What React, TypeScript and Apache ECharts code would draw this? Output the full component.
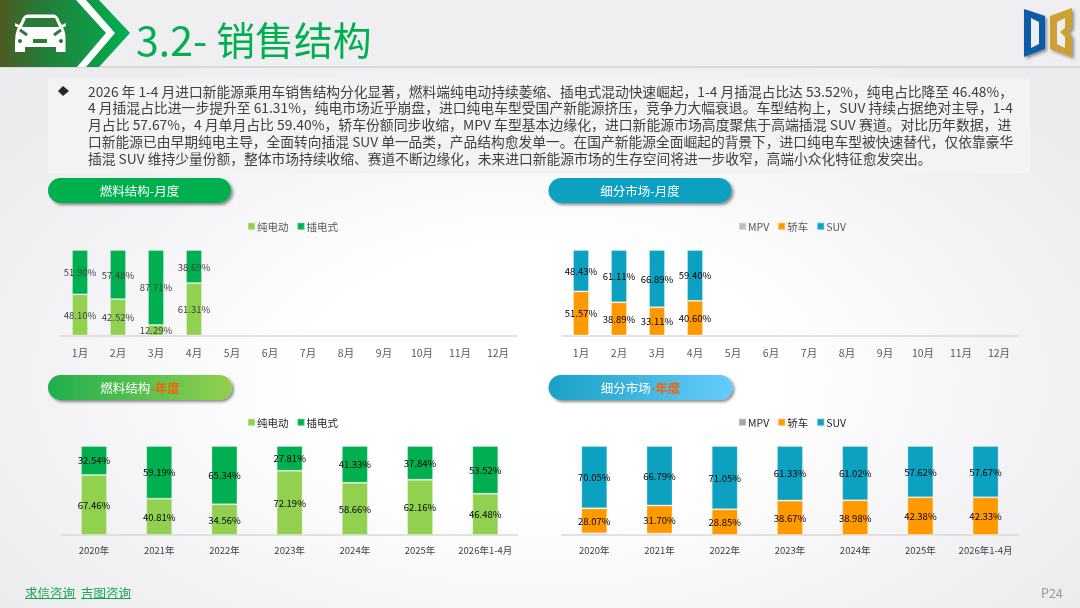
import React, { useEffect, useRef } from "react";
import * as echarts from "echarts";

const months = ["1月", "2月", "3月", "4月", "5月", "6月", "7月", "8月", "9月", "10月", "11月", "12月"];
const years = ["2020年", "2021年", "2022年", "2023年", "2024年", "2025年", "2026年1-4月"];

const monthBev = [48.1, 42.52, 12.29, 61.31];
const monthPhev = [51.9, 57.48, 87.71, 38.69];
const monthMpv = [0, 0, 0, 0];
const monthSedan = [51.57, 38.89, 33.11, 40.6];
const monthSuv = [48.43, 61.11, 66.89, 59.4];

const yearBev = [67.46, 40.81, 34.56, 72.19, 58.66, 62.16, 46.48];
const yearPhev = [32.54, 59.19, 65.34, 27.81, 41.33, 37.84, 53.52];
const yearMpv = [1.88, 1.51, 0.1, 0, 0, 0, 0];
const yearSedan = [28.07, 31.7, 28.85, 38.67, 38.98, 42.38, 42.33];
const yearSuv = [70.05, 66.79, 71.05, 61.33, 61.02, 57.62, 57.67];

const bodyLines = [
  "2026 年 1-4 月进口新能源乘用车销售结构分化显著，燃料端纯电动持续萎缩、插电式混动快速崛起，1-4 月插混占比达 53.52%，纯电占比降至 46.48%，",
  "4 月插混占比进一步提升至 61.31%，纯电市场近乎崩盘，进口纯电车型受国产新能源挤压，竞争力大幅衰退。车型结构上，SUV 持续占据绝对主导，1-4",
  "月占比 57.67%，4 月单月占比 59.40%，轿车份额同步收缩，MPV 车型基本边缘化，进口新能源市场高度聚焦于高端插混 SUV 赛道。对比历年数据，进",
  "口新能源已由早期纯电主导，全面转向插混 SUV 单一品类，产品结构愈发单一。在国产新能源全面崛起的背景下，进口纯电车型被快速替代，仅依靠豪华",
  "插混 SUV 维持少量份额，整体市场持续收缩、赛道不断边缘化，未来进口新能源市场的生存空间将进一步收窄，高端小众化特征愈发突出。",
];

const FONT = '"Noto Sans CJK SC", "Noto Sans", sans-serif';
const GREEN = "#00B050";
const LIME = "#92D050";
const ORANGE = "#FF9900";
const TEAL = "#0DA1C1";
// the reference's paragraph is justified: each line is stretched a little to the same right edge
const lineStretch = [1.003, 1.008, 1.013, 1.003, 1.005];

echarts.graphic.registerShape(
  "carBody",
  echarts.graphic.extendPath(
    "M27 14.5 L54 14.5 Q58 15 60 22 L62 25 L66 23 L66 26 L63 27.5 Q66 32 65.5 44 L65.5 52 L56 52 L56 47 L25 47 L25 52 L15 52 L15 44 Q15 32 18 27.5 L15 26 L15 23 L19 25 L21 22 Q23 15 27 14.5 Z",
    {}
  )
);

const stacked = (
  name: string,
  data: number[],
  color: string,
  axis: number,
  stack: string,
  width: number,
  labelColor: string,
  showLabel = true
) => ({
  type: "bar",
  name,
  data,
  stack,
  xAxisIndex: axis,
  yAxisIndex: axis,
  barWidth: width,
  itemStyle: { color, borderColor: "rgba(255,255,255,0.25)", borderWidth: 1 },
  label: {
    show: showLabel,
    position: "inside",
    color: labelColor,
    fontFamily: FONT,
    fontSize: 9.5,
    formatter: (p: any) => `${Number(p.value).toFixed(2)}%`,
  },
  emphasis: { disabled: true },
});

const pill = (x: number, y: number, w: number, fill: any, text: any) => [
  {
    type: "rect",
    z: 1,
    shape: { x, y, width: w, height: 25, r: 12.5 },
    style: { fill, shadowBlur: 3, shadowOffsetX: 2, shadowOffsetY: 2, shadowColor: "rgba(0,0,0,0.45)" },
  },
  {
    type: "text",
    z: 2,
    x: x + w / 2,
    y: y + 12.5,
    style: { ...text, align: "center", verticalAlign: "middle", fontFamily: FONT, fontSize: 12.5, fill: "#fff" },
  },
];

const hGrad = (a: string, b: string) =>
  new echarts.graphic.LinearGradient(0, 0, 1, 0, [
    { offset: 0, color: a },
    { offset: 1, color: b },
  ]);

const yearRich = (prefix: string) => ({
  text: `{a|${prefix}}{b|-年度}`,
  rich: {
    a: { fontFamily: FONT, fontSize: 12.5, fill: "#fff", color: "#fff" },
    b: { fontFamily: FONT, fontSize: 12.5, fontWeight: "bold", fill: "#F0640A", color: "#F0640A" },
  },
});

const poly = (points: number[][], fill: any, extra: any = {}) => ({
  type: "polygon",
  z: extra.z ?? 3,
  shape: { points },
  style: { fill, ...extra },
});

const graphics: any[] = [
  // header
  { type: "rect", z: 0, shape: { x: 0, y: 0, width: 1080, height: 66 }, style: { fill: "#EFEFF1" } },
  { type: "rect", z: 0, shape: { x: 0, y: 66, width: 1080, height: 2 }, style: { fill: "#D9D9D9" } },
  poly(
    [[0, 0], [99, 0], [130, 33], [99, 67], [0, 67]],
    new echarts.graphic.LinearGradient(0, 0, 1, 0, [
      { offset: 0, color: "#4F5A22" },
      { offset: 0.3, color: "#267A38" },
      { offset: 1, color: GREEN },
    ])
  ),
  poly([[76, 0], [86, 0], [115, 33], [86, 67], [77, 67], [106, 33]], "#FFFFFF", { z: 4 }),
  { type: "carBody", z: 5, style: { fill: "#FFFFFF" } },
  poly([[26, 18], [55, 18], [59, 27], [22, 27]], "#2B7A36", { z: 6 }),
  { type: "line", z: 6, shape: { x1: 20, y1: 30, x2: 27, y2: 35 }, style: { stroke: "#2B7A36", lineWidth: 3 } },
  { type: "line", z: 6, shape: { x1: 61, y1: 30, x2: 54, y2: 35 }, style: { stroke: "#2B7A36", lineWidth: 3 } },
  { type: "rect", z: 6, shape: { x: 33, y: 39, width: 14, height: 4 }, style: { fill: "#2B7A36" } },
  { type: "circle", z: 6, shape: { cx: 20, cy: 41, r: 2 }, style: { fill: "#2B7A36" } },
  { type: "circle", z: 6, shape: { cx: 61, cy: 41, r: 2 }, style: { fill: "#2B7A36" } },
  {
    type: "text",
    z: 5,
    x: 136,
    y: 38,
    style: {
      text: "{a|3.2- }{b|销售结构}",
      verticalAlign: "middle",
      rich: {
        a: { fontFamily: FONT, fontSize: 41, fill: GREEN, color: GREEN },
        b: { fontFamily: FONT, fontSize: 38.8, fill: GREEN, color: GREEN },
      },
    },
  },
  // logo
  poly([[1024, 9], [1045, 16], [1045, 49], [1024, 57]], "#0F5CA8", { shadowBlur: 3, shadowOffsetX: 2, shadowOffsetY: 2, shadowColor: "rgba(0,0,0,0.4)" }),
  poly([[1031, 18], [1039, 22], [1039, 44], [1031, 48]], "#EFEFF1", { z: 4 }),
  poly(
    [[1050, 16], [1072, 8], [1072, 28], [1068, 32], [1072, 36], [1072, 57], [1050, 49]],
    "#CBA135",
    { shadowBlur: 3, shadowOffsetX: 2, shadowOffsetY: 2, shadowColor: "rgba(0,0,0,0.4)" }
  ),
  poly([[1057, 22], [1065, 18], [1065, 28], [1060, 32], [1065, 37], [1065, 48], [1057, 44]], "#EFEFF1", { z: 4 }),
  // paragraph
  { type: "rect", z: 0, shape: { x: 48, y: 78, width: 982, height: 95 }, style: { fill: "#F3F3F4" } },
  poly([[63, 86], [69, 91], [63, 96], [58, 91]], "#262626"),
  ...bodyLines.map((text, i) => ({
    type: "text",
    z: 3,
    x: 88,
    y: 90.7 + i * 16.8,
    scaleX: lineStretch[i],
    style: { text, fontFamily: FONT, fontSize: 13.7, fill: "#404040", verticalAlign: "middle" },
  })),
  // pills
  ...pill(48, 178, 183, GREEN, { text: "燃料结构-月度" }),
  ...pill(548.5, 178, 183, TEAL, { text: "细分市场-月度" }),
  ...pill(48, 375, 184, hGrad("#1FAF4F", LIME), yearRich("燃料结构")),
  ...pill(548.5, 375, 184, hGrad("#1AA0C4", "#66CCFF"), yearRich("细分市场")),
  // footer
  { type: "text", z: 3, x: 25, y: 592, style: { text: "求信咨询", fontFamily: FONT, fontSize: 12.5, fill: "#16A650", verticalAlign: "middle" } },
  { type: "text", z: 3, x: 81, y: 592, style: { text: "吉图咨询", fontFamily: FONT, fontSize: 12.5, fill: "#16A650", verticalAlign: "middle" } },
  { type: "line", z: 3, shape: { x1: 25, y1: 598.5, x2: 76, y2: 598.5 }, style: { stroke: "#16A650", lineWidth: 1 } },
  { type: "line", z: 3, shape: { x1: 81, y1: 598.5, x2: 131, y2: 598.5 }, style: { stroke: "#16A650", lineWidth: 1 } },
  { type: "text", z: 3, x: 1041, y: 592, style: { text: "P24", fontFamily: FONT, fontSize: 12.5, fill: "#999999", verticalAlign: "middle" } },
];

const grids = [
  { left: 61, top: 250, width: 456, height: 85.5 },
  { left: 562, top: 250, width: 456, height: 85.5 },
  { left: 61.4, top: 446, width: 456.5, height: 89 },
  { left: 561.7, top: 446, width: 456.5, height: 89 },
];

const legendBase = {
  icon: "rect",
  itemWidth: 7,
  itemHeight: 7,
  itemGap: 8,
  padding: 0,
  selectedMode: false,
};

export default function App() {
  const ref = useRef<HTMLDivElement>(null);
  useEffect(() => {
    document.body.style.margin = "0";
    const chart = echarts.init(ref.current!, undefined, { renderer: "svg" });
    const axisOf = (data: string[], i: number, size: number, color: string, margin: number) => ({
      type: "category",
      data,
      gridIndex: i,
      axisTick: { show: false },
      axisLine: { lineStyle: { color: "#D9D9D9", width: 1.5 } },
      axisLabel: { color, fontSize: size, fontFamily: FONT, margin, interval: 0 },
    });
    const legend = (left: number, top: number, data: any[], color: string) => ({
      ...legendBase,
      left,
      top,
      data,
      textStyle: { fontFamily: FONT, fontSize: 10.5, color, padding: [0, 0, 0, -3] },
    });
    chart.setOption({
      animation: false,
      textStyle: { fontFamily: FONT },
      grid: grids.map((g) => ({ ...g, containLabel: false })),
      xAxis: [
        axisOf(months, 0, 10.5, "#595959", 12),
        axisOf(months, 1, 10.5, "#595959", 12),
        axisOf(years, 2, 9.5, "#404040", 10),
        axisOf(years, 3, 9.5, "#404040", 10),
      ],
      yAxis: grids.map((_, i) => ({ type: "value", gridIndex: i, min: 0, max: 100, show: false })),
      legend: [
        legend(247, 221, [{ name: "纯电动" }, { name: "插电式" }], "#595959"),
        legend(738, 221, [{ name: "MPV", itemStyle: { color: "#BFBFBF" } }, { name: "轿车" }, { name: "SUV" }], "#595959"),
        legend(247, 417, [{ name: "纯电动" }, { name: "插电式" }], "#262626"),
        legend(738, 417, [{ name: "MPV", itemStyle: { color: "#A5A5A5" } }, { name: "轿车" }, { name: "SUV" }], "#262626"),
      ],
      series: [
        stacked("纯电动", monthBev, LIME, 0, "a", 16, "#404040"),
        stacked("插电式", monthPhev, GREEN, 0, "a", 16, "#404040"),
        stacked("MPV", monthMpv, "#BFBFBF", 1, "b", 16, "#000", false),
        stacked("轿车", monthSedan, ORANGE, 1, "b", 16, "#000"),
        stacked("SUV", monthSuv, TEAL, 1, "b", 16, "#000"),
        stacked("纯电动", yearBev, LIME, 2, "c", 26, "#000"),
        stacked("插电式", yearPhev, GREEN, 2, "c", 26, "#000"),
        stacked("MPV", yearMpv, "#A5A5A5", 3, "d", 26, "#000", false),
        stacked("轿车", yearSedan, ORANGE, 3, "d", 26, "#000"),
        stacked("SUV", yearSuv, TEAL, 3, "d", 26, "#000"),
      ],
      graphic: graphics,
    });
    return () => chart.dispose();
  }, []);
  return (
    <div
      ref={ref}
      style={{
        position: "fixed",
        left: 0,
        top: 0,
        width: 1080,
        height: 608,
        background:
          "radial-gradient(ellipse 62% 62% at 50% 62%, #FFFFFF 0%, #FFFFFF 35%, #F4F4F6 70%, #ECECEE 100%)",
      }}
    />
  );
}
